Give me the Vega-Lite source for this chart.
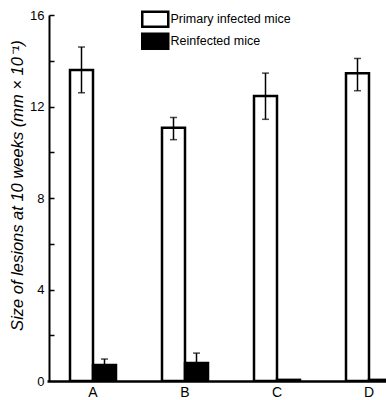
{
  "$schema": "https://vega.github.io/schema/vega-lite/v6.json",
  "autosize": {"type": "none"},
  "padding": {"left": 49, "top": 15, "right": 0, "bottom": 19},
  "width": 337,
  "height": 366,
  "background": "white",
  "config": {
    "view": {"stroke": null},
    "font": "Liberation Sans",
    "axis": {"grid": false, "domainColor": "black", "tickColor": "black", "labelColor": "black", "titleColor": "black"}
  },
  "resolve": {"scale": {"y": "shared"}, "axis": {"y": "independent"}},
  "data": {
    "values": [
      {"group": "A", "series": "Primary infected mice", "value": 13.6, "lo": 12.6, "hi": 14.6},
      {"group": "A", "series": "Reinfected mice", "value": 0.7, "lo": 0.44, "hi": 0.96},
      {"group": "B", "series": "Primary infected mice", "value": 11.07, "lo": 10.55, "hi": 11.52},
      {"group": "B", "series": "Reinfected mice", "value": 0.79, "lo": 0.36, "hi": 1.22},
      {"group": "C", "series": "Primary infected mice", "value": 12.46, "lo": 11.44, "hi": 13.46},
      {"group": "C", "series": "Reinfected mice", "value": 0.05, "lo": 0.05, "hi": 0.05},
      {"group": "D", "series": "Primary infected mice", "value": 13.45, "lo": 12.69, "hi": 14.1},
      {"group": "D", "series": "Reinfected mice", "value": 0.05, "lo": 0.05, "hi": 0.05}
    ]
  },
  "encoding": {
    "x": {
      "field": "group", "type": "nominal",
      "scale": {"type": "band", "range": [-2, 366], "paddingInner": 0.5, "paddingOuter": 0.25},
      "axis": {"title": null, "labelAngle": 0, "ticks": false, "domainWidth": 2.5, "labelFontSize": 14, "labelPadding": 4, "labelFont": "Liberation Sans"}
    },
    "xOffset": {"field": "series", "type": "nominal", "scale": {"domain": ["Primary infected mice", "Reinfected mice"]}}
  },
  "layer": [
    {
      "mark": {"type": "bar", "stroke": "black", "strokeWidth": 2.5, "clip": true},
      "encoding": {
        "y": {
          "field": "value", "type": "quantitative",
          "scale": {"domain": [0, 16], "nice": false},
          "axis": {
            "orient": "left",
            "title": "Size of lesions at 10 weeks (mm × 10⁻¹)",
            "titleFontStyle": "italic", "titleFontWeight": "normal", "titleFontSize": 16.5, "titlePadding": 4,
            "titleY": 170, "titleAlign": "center",
            "values": [0, 4, 8, 12, 16],
            "ticks": false, "domainWidth": 2, "labelFontSize": 13, "labelPadding": 5
          }
        },
        "fill": {
          "field": "series", "type": "nominal",
          "scale": {"domain": ["Primary infected mice", "Reinfected mice"], "range": ["white", "black"]},
          "legend": {
            "title": null, "orient": "none", "legendX": 100, "legendY": -2,
            "symbolType": "M-4,-2.32H4V2.32H-4Z", "symbolSize": 42.25,
            "symbolStrokeColor": "black", "symbolStrokeWidth": 2.5,
            "labelFontSize": 12.5, "labelOffset": 9, "rowPadding": -4, "symbolOpacity": 1
          }
        }
      }
    },
    {
      "mark": {"type": "rule", "color": "black", "strokeWidth": 1.5, "clip": true},
      "encoding": {
        "y": {
          "field": "lo", "type": "quantitative",
          "axis": {
            "orient": "right", "offset": -337, "title": null, "labels": false, "domain": false,
            "values": [2, 4, 6, 8, 10, 12, 14, 16], "tickSize": 5, "tickWidth": 1.5
          }
        },
        "y2": {"field": "hi"}
      }
    },
    {
      "mark": {"type": "tick", "color": "black", "orient": "horizontal", "size": 7, "thickness": 1.5, "clip": true},
      "encoding": {"y": {"field": "hi", "type": "quantitative", "axis": null}}
    },
    {
      "mark": {"type": "tick", "color": "black", "orient": "horizontal", "size": 7, "thickness": 1.5, "clip": true},
      "encoding": {"y": {"field": "lo", "type": "quantitative", "axis": null}}
    }
  ]
}
